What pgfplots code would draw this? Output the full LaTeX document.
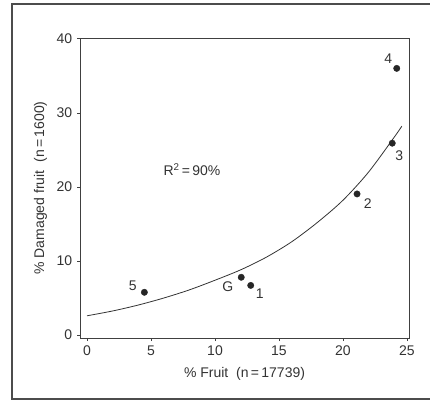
\documentclass[border=0pt]{standalone}
\usepackage{pgfplots}
\pgfplotsset{compat=1.18}
\usepackage{fontspec}
\setmainfont{Liberation Sans}

\begin{document}
\fontsize{14}{16}\selectfont
\begin{tikzpicture}
\begin{axis}[
    scale only axis,
    width=329pt, height=300pt,
    xmin=-0.55, xmax=25.16,
    ymin=-0.4, ymax=40.1,
    xtick={0,5,10,15,20,25},
    ytick={0,10,20,30,40},
    tick align=outside,
    xtick pos=bottom, ytick pos=left,
    major tick length=3pt,
    axis line style={black!75, line width=0.8pt},
    tick style={black!75, line width=0.6pt},
    /pgf/number format/assume math mode=true,
    ticklabel style={font=\fontsize{14}{16}\selectfont, text=black!80},
    label style={font=\fontsize{14}{16}\selectfont, text=black!80},
    xlabel={\% Fruit\ \ (n\,=\,17739)},
    ylabel={\% Damaged fruit\ \ (n\,=\,1600)},
    xlabel style={yshift=-2pt},
    clip=false,
]
% fitted curve
\addplot[smooth, black!80, line width=0.8pt] coordinates {
    (0,2.6) (2,3.25) (4,4.05) (6,5.0) (8,6.1) (10,7.4) (12,8.8)
    (14,10.5) (16,12.6) (18,15.2) (20,18.2) (22,22.0) (24,26.7) (24.6,28.2)
};
% observed points
\addplot[only marks, mark=*, mark size=3.2pt, black!85] coordinates {
    (4.48,5.77) (12.05,7.8) (12.79,6.7) (21.1,19.05) (23.85,25.9) (24.2,36.0)
};
\node[text=black!80] at (axis cs:3.57,6.66) {5};
\node[text=black!80] at (axis cs:11.0,6.5) {G};
\node[text=black!80] at (axis cs:13.5,5.6) {1};
\node[text=black!80] at (axis cs:21.93,17.8) {2};
\node[text=black!80] at (axis cs:24.4,24.2) {3};
\node[text=black!80] at (axis cs:23.54,37.3) {4};
\node[text=black!80] at (axis cs:8.2,22.3) {R\textsuperscript{2}\,=\,90\%};
% outer frame (right side cropped)
\draw[black!70, line width=1.5pt]
    (rel axis cs:1.07,1.1133) -- (rel axis cs:-0.2067,1.1133)
    -- (rel axis cs:-0.2067,-0.2033) -- (rel axis cs:1.07,-0.2033);
\coordinate (bbl) at (rel axis cs:-0.2432,-0.2133);
\coordinate (btr) at (rel axis cs:1.0638,1.1267);
\end{axis}
\pgfresetboundingbox
\useasboundingbox (bbl) rectangle (btr);
\end{tikzpicture}
\end{document}
